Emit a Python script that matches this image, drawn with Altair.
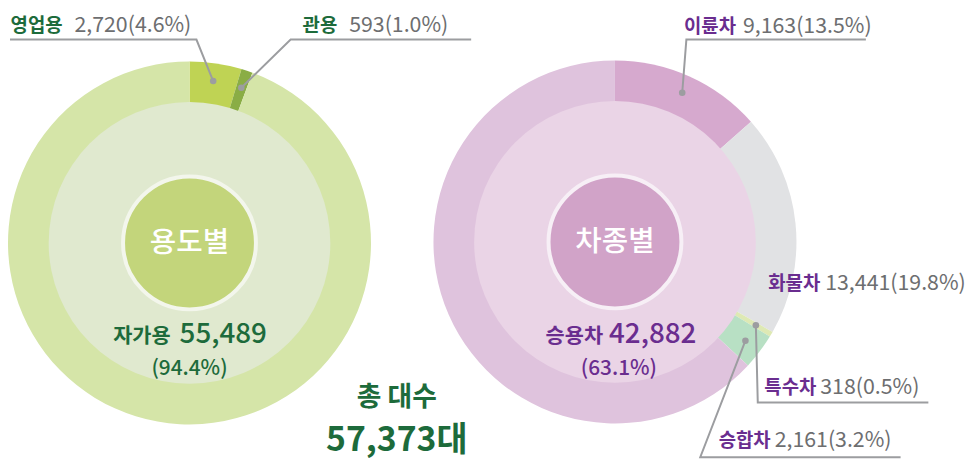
import math
import altair as alt
import pandas as pd

# ---------------- data ----------------
LEFT_TITLE = "용도별"
LEFT_NAMES = ["영업용", "관용", "자가용"]
LEFT_VALUES = [2720, 593, 55489]
LEFT_PCTS = [4.6, 1.0, 94.4]

RIGHT_TITLE = "차종별"
RIGHT_NAMES = ["이륜차", "화물차", "특수차", "승합차", "승용차"]
RIGHT_VALUES = [9163, 13441, 318, 2161, 42882]
RIGHT_PCTS = [13.5, 19.8, 0.5, 3.2, 63.1]

TOTAL_LABEL = "총 대수"
TOTAL_VALUE = 57373

# ---------------- styles / layout ----------------
FONT = "Noto Sans CJK KR"
M = 8                      # page margin
W, H = 964, 444
GREEN_TXT = "#1d6b3b"
PURPLE_TXT = "#6a2d8f"
GRAY_TXT = "#6d6e70"
LEADER = "#9c9da0"

LEFT_COLORS = ["#bfd354", "#8aad45", "#d5e5a8"]
RIGHT_COLORS = ["#d6a9ce", "#e1e2e4", "#dee9b4", "#b8e0c4", "#dfc3dd"]
LEFT_DISC, RIGHT_DISC = "#e0e9cf", "#ead4e6"
LEFT_CORE, RIGHT_CORE = "#c3d57b", "#d1a3c8"
LEFT_RING, RIGHT_RING = "#f3f6ec", "#f7eff6"

LCX, LCY = 191, 243
RCX, RCY = 620, 242
R_OUT, R_IN, R_CORE = 183, 142, 67
R_DOT = 165

# name right edge, number left edge, baseline
LABEL_POS = {
    "영업용": (63, 75, 30),
    "관용": (340, 352, 30),
    "이륜차": (742, 749, 31),
    "화물차": (827, 832, 290),
    "특수차": (823, 827, 395),
    "승합차": (777, 781, 449),
}
# elbow and end of each leader line
LEADERS = {
    "영업용": [(198, 38), (10, 38)],
    "관용": [(293, 38), (475, 38)],
    "이륜차": [(692, 38), (873, 38)],
    "특수차": [(764, 404), (936, 404)],
    "승합차": [(706, 459), (908, 459)],
}

xs = alt.Scale(domain=[M, M + W], range=[0, W], nice=False, zero=False)
ys = alt.Scale(domain=[M, M + H], range=[0, H], nice=False, zero=False)


def one():
    return alt.Data(values=[{}])


def text(s, x, y, size, color, weight="normal", align="left", baseline="alphabetic"):
    return alt.Chart(one()).mark_text(
        text=s, font=FONT, fontSize=size, fontWeight=weight, color=color,
        align=align, baseline=baseline,
    ).encode(x=alt.value(x - M), y=alt.value(y - M))


def donut(names, values, colors, cx, cy):
    df = pd.DataFrame({"name": names, "value": values, "k": list(range(len(names)))})
    return alt.Chart(df).mark_arc(radius=R_OUT).encode(
        theta=alt.Theta("value:Q", stack=True),
        order=alt.Order("k:Q"),
        color=alt.Color("name:N", scale=alt.Scale(domain=names, range=colors), legend=None),
        x=alt.value(cx - M),
        y=alt.value(cy - M),
    )


def disc(r, cx, cy, fill, stroke=None, sw=0):
    kw = dict(radius=r, theta=0, theta2=2 * math.pi, fill=fill)
    if stroke:
        kw.update(stroke=stroke, strokeWidth=sw)
    return alt.Chart(one()).mark_arc(**kw).encode(x=alt.value(cx - M), y=alt.value(cy - M))


def dot_positions(names, values, cx, cy):
    total = sum(values)
    out = {}
    cum = 0
    for n, v in zip(names, values):
        a = 2 * math.pi * (cum + v / 2) / total
        out[n] = (cx + R_DOT * math.sin(a), cy - R_DOT * math.cos(a))
        cum += v
    return out


dots = {}
dots.update(dot_positions(LEFT_NAMES, LEFT_VALUES, LCX, LCY))
dots.update(dot_positions(RIGHT_NAMES, RIGHT_VALUES, RCX, RCY))

line_rows, dot_rows = [], []
for name, pts in LEADERS.items():
    p0 = dots[name]
    dot_rows.append({"id": name, "x": p0[0], "y": p0[1]})
    for i, p in enumerate([p0] + pts):
        line_rows.append({"id": name, "ord": i, "x": p[0], "y": p[1]})

leader_lines = alt.Chart(pd.DataFrame(line_rows)).mark_line(
    color=LEADER, strokeWidth=2, interpolate="linear"
).encode(
    x=alt.X("x:Q", scale=xs, axis=None),
    y=alt.Y("y:Q", scale=ys, axis=None),
    detail="id:N",
    order="ord:Q",
)
leader_dots = alt.Chart(pd.DataFrame(dot_rows)).mark_circle(
    color=LEADER, size=44, opacity=1
).encode(
    x=alt.X("x:Q", scale=xs, axis=None),
    y=alt.Y("y:Q", scale=ys, axis=None),
)

layers = [
    donut(LEFT_NAMES, LEFT_VALUES, LEFT_COLORS, LCX, LCY),
    donut(RIGHT_NAMES, RIGHT_VALUES, RIGHT_COLORS, RCX, RCY),
    disc(R_IN, LCX, LCY, LEFT_DISC),
    disc(R_IN, RCX, RCY, RIGHT_DISC),
    disc(R_CORE, LCX, LCY, LEFT_CORE, LEFT_RING, 4),
    disc(R_CORE, RCX, RCY, RIGHT_CORE, RIGHT_RING, 4),
    text(LEFT_TITLE, LCX, LCY, 29, "white", weight=500, align="center", baseline="middle"),
    text(RIGHT_TITLE, RCX, RCY, 29, "white", weight=500, align="center", baseline="middle"),
    leader_lines,
    leader_dots,
]

# outer labels
for names, values, pcts, col in [
    (LEFT_NAMES, LEFT_VALUES, LEFT_PCTS, GREEN_TXT),
    (RIGHT_NAMES, RIGHT_VALUES, RIGHT_PCTS, PURPLE_TXT),
]:
    for n, v, p in zip(names, values, pcts):
        if n not in LABEL_POS:
            continue
        xr, xl, yb = LABEL_POS[n]
        layers.append(text(n, xr, yb, 19, col, weight="bold", align="right"))
        layers.append(text(f"{v:,}({p:.1f}%)", xl, yb, 21.5, GRAY_TXT))

# main (largest) slice labels inside the discs
big_l = LEFT_VALUES.index(max(LEFT_VALUES))
big_r = RIGHT_VALUES.index(max(RIGHT_VALUES))
layers += [
    text(LEFT_NAMES[big_l], 172, 344, 21, GREEN_TXT, weight="bold", align="right"),
    text(f"{LEFT_VALUES[big_l]:,}", 181, 344, 28, GREEN_TXT, weight=500),
    text(f"({LEFT_PCTS[big_l]:.1f}%)", 191, 376, 21, GREEN_TXT, weight=500, align="center"),
    text(RIGHT_NAMES[big_r], 608, 344, 21, PURPLE_TXT, weight="bold", align="right"),
    text(f"{RIGHT_VALUES[big_r]:,}", 614, 344, 28, PURPLE_TXT, weight=500),
    text(f"({RIGHT_PCTS[big_r]:.1f}%)", 624, 376, 21, PURPLE_TXT, weight=500, align="center"),
    text(TOTAL_LABEL, 400, 407, 27, GREEN_TXT, weight="bold", align="center"),
    text(f"{TOTAL_VALUE:,}대", 400, 453, 34, GREEN_TXT, weight="bold", align="center"),
]

chart = (
    alt.layer(*layers)
    .resolve_scale(theta="independent", color="independent")
    .properties(
        width=W,
        height=H,
        padding={"left": 0, "top": 0, "right": 8, "bottom": 8},
        autosize=alt.AutoSizeParams(type="none"),
    )
    .configure_view(stroke=None)
)

chart.save("out.html", embed_options={"renderer": "svg", "actions": False})
